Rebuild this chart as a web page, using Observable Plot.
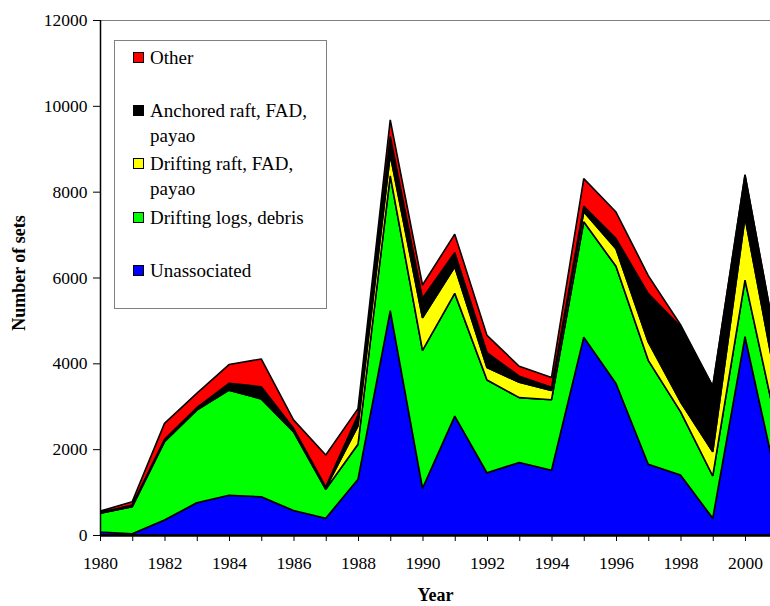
<!DOCTYPE html>
<html>
<head>
<meta charset="utf-8">
<script src="https://cdn.jsdelivr.net/npm/d3@7"></script>
<script src="https://cdn.jsdelivr.net/npm/@observablehq/plot@0.6"></script>
<style>
  html, body { margin: 0; padding: 0; background: #fff; }
  #wrap { position: relative; width: 770px; height: 606px; overflow: hidden; font-family: "Liberation Serif", "Times New Roman", serif; }
  #legend { position: absolute; left: 114px; top: 40px; width: 213px; height: 269px; border: 1px solid #808080; background: #fff; box-sizing: border-box; }
  .item { position: absolute; left: 0; font-size: 19px; line-height: 25px; color: #000; }
  .sw { position: absolute; left: 18px; width: 9px; height: 9px; border: 1px solid #000; }
  .lab { position: absolute; left: 35px; white-space: nowrap; }
</style>
</head>
<body>
<div id="wrap"></div>
<script>
// ---- data ----
const years = [1980,1981,1982,1983,1984,1985,1986,1987,1988,1989,1990,1991,1992,1993,1994,1995,1996,1997,1998,1999,2000,2001];
const unassociated = [70,30,350,750,925,890,570,390,1300,5230,1090,2770,1450,1690,1510,4610,3530,1650,1400,390,4620,1210];
const driftingLogs = [435,630,1825,2160,2450,2280,1840,675,815,3140,3210,2860,2160,1510,1640,2690,2730,2420,1475,985,1320,1270];
const driftingRaft = [5,5,15,15,12,11,12,26,430,490,760,620,290,360,220,230,410,430,230,565,1460,930];
const anchoredRaft = [10,35,40,40,145,275,65,30,250,425,455,330,350,140,70,130,235,1125,1750,1515,985,915];
const other = [35,77,370,335,440,645,195,745,150,390,310,430,400,230,230,645,620,420,45,15,12,10];
const seriesNames = ["Unassociated","Drifting logs, debris","Drifting raft, FAD, payao","Anchored raft, FAD, payao","Other"];
const seriesColors = ["#0000FF","#00FF00","#FFFF00","#000000","#FF0000"];
const yTicks = [0,2000,4000,6000,8000,10000,12000];
const xTicks = years.slice(0, 21);
const xTickLabels = [1980,1982,1984,1986,1988,1990,1992,1994,1996,1998,2000];

// ---- table ----
const seriesValues = [unassociated, driftingLogs, driftingRaft, anchoredRaft, other];
const table = [];
seriesNames.forEach((name, k) => {
  years.forEach((yr, i) => table.push({year: yr, type: name, value: seriesValues[k][i]}));
});

const serif = "Liberation Serif";
const chart = Plot.plot({
  width: 770,
  height: 606,
  marginLeft: 100,
  marginRight: 0,
  marginTop: 20,
  marginBottom: 71,
  style: {fontFamily: "'Liberation Serif', 'Times New Roman', serif", fontSize: "17px", color: "#000", background: "#fff"},
  x: {domain: [1980, 2000.775], label: null},
  y: {domain: [0, 12000], label: null},
  color: {domain: seriesNames, range: seriesColors},
  marks: [
    Plot.ruleY([12000], {stroke: "#808080", strokeWidth: 1}),
    Plot.areaY(table, Plot.stackY({
      x: "year", y: "value", z: "type", fill: "type",
      order: seriesNames,
      stroke: "#000", strokeWidth: 1.6, strokeLinejoin: "miter",
      clip: true
    })),
    Plot.axisY({ticks: yTicks, tickFormat: d => String(d), tickSize: 7, tickPadding: 6, label: null, fontSize: 17.5, fontFamily: serif}),
    Plot.axisX({ticks: xTicks, tickFormat: d => xTickLabels.includes(d) ? String(d) : "", tickSize: 6, tickPadding: 15, label: null, fontSize: 17.5, fontFamily: serif}),
    Plot.ruleX([1980], {y1: 0, y2: 12000, stroke: "#000", strokeWidth: 1.5}),
    Plot.ruleY([0], {stroke: "#000", strokeWidth: 2.5}),
    Plot.text(["Year"], {frameAnchor: "bottom", lineAnchor: "middle", textAnchor: "middle", dy: 60, text: d => d, fontWeight: "bold", fontSize: 18, fontFamily: serif}),
    Plot.text(["Number of sets"], {frameAnchor: "left", lineAnchor: "middle", textAnchor: "middle", dx: -81, dy: -5, rotate: -90, text: d => d, fontWeight: "bold", fontSize: 18, fontFamily: serif})
  ]
});
d3.select(chart).selectAll("text").style("font-family", "'Liberation Serif', serif").style("font-variant", "normal");
document.getElementById("wrap").appendChild(chart);

// ---- legend (top entry = top of stack) ----
const legend = document.createElement("div");
legend.id = "legend";
const legendRows = [
  {idx: 4, lines: ["Other"], top: 4},
  {idx: 3, lines: ["Anchored raft, FAD,", "payao"], top: 57},
  {idx: 2, lines: ["Drifting raft, FAD,", "payao"], top: 110},
  {idx: 1, lines: ["Drifting logs, debris"], top: 164},
  {idx: 0, lines: ["Unassociated"], top: 217}
];
legendRows.forEach(r => {
  const it = document.createElement("div");
  it.className = "item";
  it.style.top = r.top + "px";
  const sw = document.createElement("div");
  sw.className = "sw";
  sw.style.top = "7px";
  sw.style.background = seriesColors[r.idx];
  it.appendChild(sw);
  const lab = document.createElement("div");
  lab.className = "lab";
  lab.innerHTML = r.lines.join("<br>");
  it.appendChild(lab);
  legend.appendChild(it);
});
document.getElementById("wrap").appendChild(legend);
</script>
</body>
</html>
